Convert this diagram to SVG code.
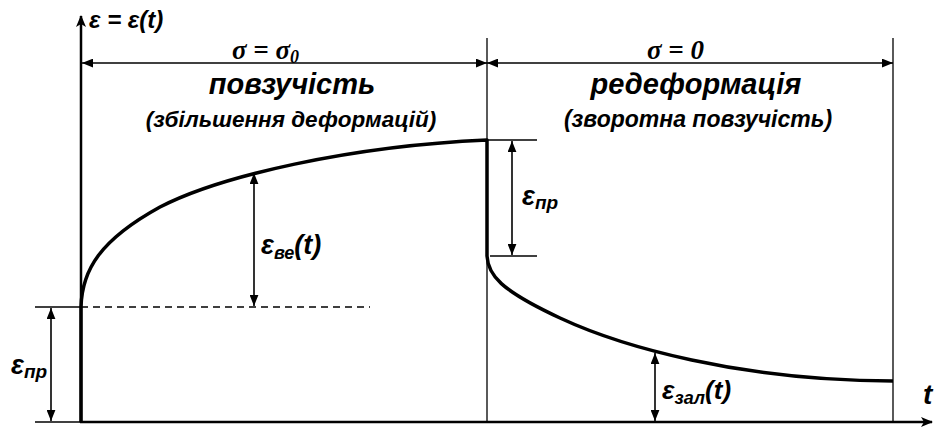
<svg xmlns="http://www.w3.org/2000/svg" width="936" height="430" viewBox="0 0 936 430">
<style>
.thin{stroke:#000;stroke-width:1.3;fill:none}
.dim{stroke:#000;stroke-width:1.6;fill:none;marker-start:url(#ah);marker-end:url(#ah)}
.axis{stroke:#000;stroke-width:2.5;fill:none;marker-end:url(#ax)}
.curve{stroke:#000;stroke-width:3.5;fill:none;stroke-linejoin:round}
.dash{stroke:#000;stroke-width:1.3;fill:none;stroke-dasharray:7 5}
.lbl{font-family:"Liberation Sans",Arial,sans-serif;font-weight:bold;font-style:italic;fill:#000}
.sig{font-family:"Liberation Serif","Times New Roman",serif;font-weight:bold;font-style:italic;fill:#000}
</style>
<defs>
<marker id="ah" viewBox="0 0 10 8" refX="10" refY="4" markerWidth="11" markerHeight="9" markerUnits="userSpaceOnUse" orient="auto-start-reverse">
<path d="M0,0 L10,4 L0,8 Z" fill="#000"/>
</marker>
<marker id="ax" viewBox="0 0 12 10" refX="11" refY="5" markerWidth="12" markerHeight="10" markerUnits="userSpaceOnUse" orient="auto">
<path d="M0,0 L12,5 L0,10 L3,5 Z" fill="#000"/>
</marker>
</defs>
<rect width="936" height="430" fill="#fff"/>

<g id="axes">
<line class="axis" x1="81" y1="423" x2="81" y2="16"/>
<line class="axis" x1="80" y1="422" x2="932" y2="422"/>
<text class="lbl" x="89" y="28" font-size="24">ε = ε(t)</text>
<text class="lbl" x="923" y="404" font-size="28">t</text>
</g>

<g id="boundaries">
<line class="thin" x1="487" y1="38" x2="487" y2="422"/>
<line class="thin" x1="893" y1="38" x2="893" y2="422"/>
</g>

<g id="creep-phase">
<text class="sig" x="232" y="59" font-size="27">σ = σ<tspan font-size="18" dy="4">0</tspan></text>
<text class="lbl" x="292" y="94" font-size="29" text-anchor="middle">повзучість</text>
<text class="lbl" x="291" y="127" font-size="22.5" text-anchor="middle">(збільшення деформацій)</text>
</g>

<g id="recovery-phase">
<text class="sig" x="647" y="59" font-size="27">σ = 0</text>
<text class="lbl" x="696" y="94" font-size="29" text-anchor="middle">редеформація</text>
<text class="lbl" x="698" y="127" font-size="23" text-anchor="middle">(зворотна повзучість)</text>
</g>

<g id="strain-curve">
<path class="curve" d="M81,422 L81,307 C82,270 100,240 160,207 C220,176 350,146 487,140 L487,256 C488,275 500,290 560,318 C620,346 740,381 893,381"/>
</g>

<g id="eps-pr-left">
<line class="thin" x1="35" y1="307" x2="81" y2="307"/>
<line class="thin" x1="35" y1="422" x2="81" y2="422"/>
<text class="lbl" x="11" y="374" font-size="27">ε<tspan font-size="19" dy="4">пр</tspan></text>
</g>

<g id="eps-ve">
<line class="dash" x1="81" y1="307" x2="370" y2="307"/>
<text class="lbl" x="261" y="254" font-size="27">ε<tspan font-size="18" dy="5">ве</tspan><tspan dy="-5">(t)</tspan></text>
</g>

<g id="eps-pr-right">
<line class="thin" x1="487" y1="140" x2="537" y2="140"/>
<line class="thin" x1="490" y1="256" x2="537" y2="256"/>
<text class="lbl" x="522" y="205" font-size="27">ε<tspan font-size="19" dy="4">пр</tspan></text>
</g>

<g id="eps-zal">
<text class="lbl" x="662" y="399" font-size="26">ε<tspan font-size="18" dy="5">зал</tspan><tspan dy="-5">(t)</tspan></text>
</g>

<g id="connectors">
<line class="dim" x1="82" y1="63" x2="487" y2="63"/>
<line class="dim" x1="487" y1="63" x2="893" y2="63"/>
<line class="dim" x1="51" y1="308" x2="51" y2="421"/>
<line class="dim" x1="254" y1="173" x2="254" y2="306"/>
<line class="dim" x1="512" y1="141" x2="512" y2="255"/>
<line class="dim" x1="655" y1="353" x2="655" y2="421"/>
</g>
</svg>
